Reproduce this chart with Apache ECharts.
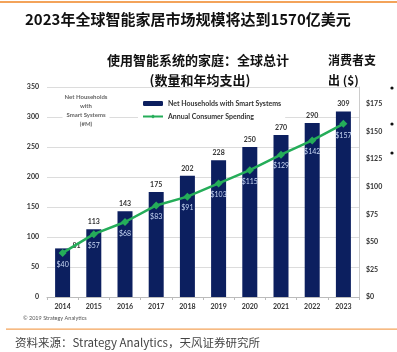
<!DOCTYPE html>
<html>
<head>
<meta charset="utf-8">
<script src="https://cdn.jsdelivr.net/npm/echarts@6/dist/echarts.min.js"></script>
<style>
  html, body { margin: 0; padding: 0; background: #fff; }
  #main { width: 397px; height: 352px; }
</style>
</head>
<body>
<div id="main"></div>
<script>
// values
var years = ['2014', '2015', '2016', '2017', '2018', '2019', '2020', '2021', '2022', '2023'];
var households = [81, 113, 143, 175, 202, 228, 250, 270, 290, 309];   // #M
var spending = [40, 57, 68, 83, 91, 103, 115, 129, 142, 157];         // $

var cjk = '"Noto Sans CJK SC", sans-serif';
var lat = 'Lato, "Open Sans", sans-serif';

var chart = echarts.init(document.getElementById('main'), null, { renderer: 'canvas' });

var option = {
  animation: false,
  backgroundColor: '#fff',
  grid: { left: 47, right: 38, top: 87, bottom: 55 },
  legend: {
    orient: 'vertical',
    left: 138,
    top: 98,
    itemWidth: 20,
    itemHeight: 5,
    itemGap: 6,
    padding: [2, 4],
    backgroundColor: '#fff',
    textStyle: { fontFamily: lat, fontSize: 7, fontWeight: 'bold', color: '#333' },
    data: ['Net Households with Smart Systems', 'Annual Consumer Spending']
  },
  xAxis: {
    type: 'category',
    data: years,
    axisLine: { lineStyle: { color: '#bbb' } },
    axisTick: { show: true, length: 3, lineStyle: { color: '#bbb' } },
    axisLabel: { fontFamily: lat, fontSize: 7, fontWeight: 'bold', color: '#333', margin: 6 }
  },
  yAxis: [
    {
      type: 'value', min: 0, max: 350, interval: 50,
      axisLine: { show: false },
      axisTick: { show: false },
      splitLine: { lineStyle: { color: '#dcdcdc' } },
      axisLabel: { fontFamily: lat, fontSize: 7, fontWeight: 'bold', color: '#333', margin: 8 }
    },
    {
      type: 'value', min: 0, max: 190.4, interval: 25,
      position: 'right',
      axisLine: { show: true, lineStyle: { color: '#ccc' } },
      axisTick: { show: false },
      splitLine: { show: false },
      axisLabel: {
        fontFamily: lat, fontSize: 7, fontWeight: 'bold', color: '#333', margin: 7,
        showMaxLabel: false,
        formatter: function (v) { return '$' + v; }
      }
    }
  ],
  series: [
    {
      name: 'Net Households with Smart Systems',
      type: 'bar',
      barWidth: 15,
      itemStyle: { color: '#0c1f5f' },
      label: {
        show: true, position: 'top', distance: 4,
        fontFamily: lat, fontSize: 7, fontWeight: 'bold', color: '#333'
      },
      data: households.map(function (v, i) {
        // first label sits beside the line in the source picture
        if (i === 0) return { value: v, label: { offset: [14, 5] } };
        return v;
      })
    },
    {
      name: 'Annual Consumer Spending',
      type: 'line',
      yAxisIndex: 1,
      symbol: 'diamond',
      symbolSize: 8,
      lineStyle: { color: '#25ad59', width: 2.5 },
      itemStyle: { color: '#25ad59' },
      label: {
        show: true, position: 'bottom', distance: 4,
        fontFamily: lat, fontSize: 7, color: '#c9d8f5',
        formatter: function (p) { return '$' + p.value; }
      },
      data: spending,
      z: 3
    }
  ],
  graphic: [
    { type: 'rect', shape: { x: 0, y: 1, width: 397, height: 2 }, style: { fill: '#f3a35a' } },
    {
      type: 'text', left: 25, top: 12,
      style: { text: '2023年全球智能家居市场规模将达到1570亿美元', fontFamily: cjk, fontSize: 15, fontWeight: 'bold', fill: '#111' }
    },
    {
      type: 'text', x: 198, y: 60,
      style: { text: '使用智能系统的家庭：全球总计', fontFamily: cjk, fontSize: 13, fontWeight: 'bold', fill: '#111', align: 'center', verticalAlign: 'middle' }
    },
    {
      type: 'text', x: 200, y: 80,
      style: { text: '(数量和年均支出)', fontFamily: cjk, fontSize: 13, fontWeight: 'bold', fill: '#111', align: 'center', verticalAlign: 'middle' }
    },
    {
      type: 'text', x: 328, y: 60,
      style: { text: '消费者支', fontFamily: cjk, fontSize: 12, fontWeight: 'bold', fill: '#111', verticalAlign: 'middle' }
    },
    {
      type: 'text', x: 328, y: 80,
      style: { text: '出 ($)', fontFamily: cjk, fontSize: 12, fontWeight: 'bold', fill: '#111', verticalAlign: 'middle' }
    },
    {
      type: 'text', x: 86, y: 93, z: 10,
      style: {
        text: 'Net Households\nwith\nSmart Systems\n(#M)', fontFamily: lat, fontSize: 6, fontWeight: 'bold', fill: '#666',
        align: 'center', lineHeight: 9, backgroundColor: '#fff', padding: [0, 2]
      }
    },
    { type: 'circle', shape: { cx: 392, cy: 88, r: 1.6 }, style: { fill: '#111' } },
    { type: 'circle', shape: { cx: 392, cy: 124, r: 1.6 }, style: { fill: '#111' } },
    { type: 'circle', shape: { cx: 392, cy: 153, r: 1.6 }, style: { fill: '#111' } },
    {
      type: 'text', x: 23, y: 318,
      style: { text: '© 2019 Strategy Analytics', fontFamily: lat, fontSize: 5.5, fill: '#555', verticalAlign: 'middle' }
    },
    { type: 'rect', shape: { x: 6, y: 328.5, width: 391, height: 1.2 }, style: { fill: '#f3a35a' } },
    {
      type: 'text', x: 15, y: 343,
      style: { text: '资料来源：Strategy Analytics，天风证券研究所', fontFamily: cjk, fontSize: 11.5, fill: '#444', verticalAlign: 'middle' }
    }
  ]
};

chart.setOption(option);
</script>
</body>
</html>
